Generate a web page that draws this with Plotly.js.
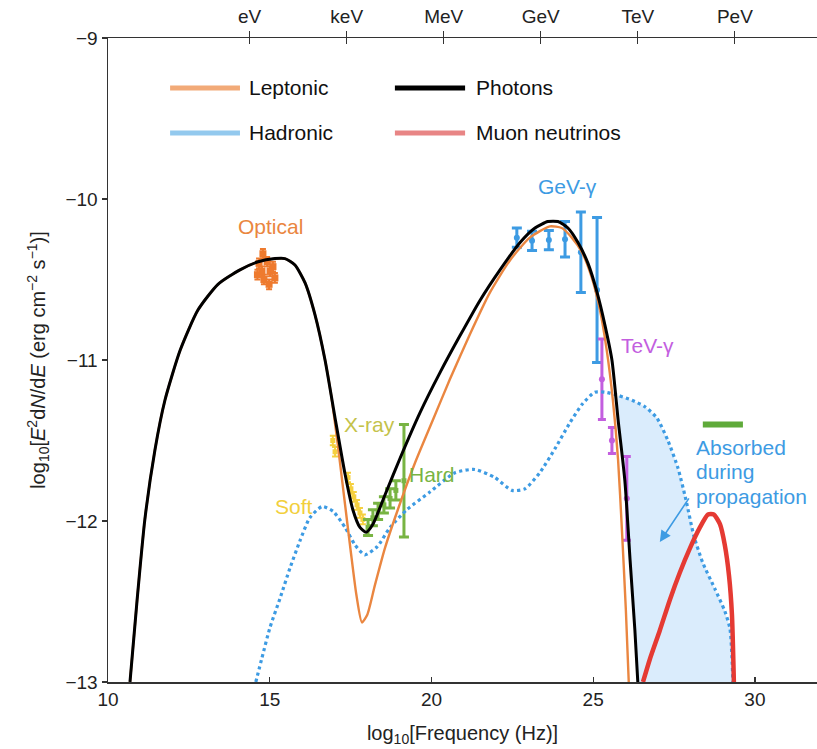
<!DOCTYPE html>
<html>
<head>
<meta charset="utf-8">
<script src="https://cdn.plot.ly/plotly-3.0.1.min.js"></script>
<style>html,body{margin:0;padding:0;background:#fff;}#chart{width:817px;height:749px;}</style>
</head>
<body>
<div id="chart"></div>
<script>
// ---- Model curves (log10 frequency, log10 E^2 dN/dE) ----
const photonX = [10.68,10.90,11.14,11.45,11.76,12.23,12.78,13.40,14.08,14.64,15.16,15.47,15.78,16.09,16.40,16.71,17.02,17.33,17.57,17.79,17.98,18.19,18.56,19.03,19.64,20.26,20.88,21.50,22.12,22.74,23.20,23.60,23.91,24.22,24.53,24.84,25.12,25.36,25.58,25.77,25.98,26.14,26.29,26.38];
const photonY = [-13.00,-12.49,-11.99,-11.56,-11.25,-10.94,-10.69,-10.53,-10.44,-10.39,-10.37,-10.37,-10.41,-10.52,-10.72,-11.00,-11.36,-11.71,-11.93,-12.04,-12.07,-12.02,-11.84,-11.61,-11.33,-11.08,-10.85,-10.63,-10.44,-10.27,-10.18,-10.14,-10.14,-10.18,-10.27,-10.40,-10.58,-10.78,-11.00,-11.37,-11.75,-12.24,-12.68,-13.00];

const leptonicX = [10.68,10.90,11.14,11.45,11.76,12.23,12.78,13.40,14.08,14.64,15.16,15.47,15.78,16.09,16.40,16.71,16.90,17.10,17.30,17.50,17.68,17.85,18.02,18.25,18.56,18.96,19.49,20.05,20.57,21.19,21.81,22.43,23.04,23.66,24.03,24.34,24.65,24.96,25.21,25.42,25.61,25.77,25.89,26.01,26.10];
const leptonicY = [-13.00,-12.49,-11.99,-11.56,-11.25,-10.94,-10.69,-10.53,-10.44,-10.39,-10.37,-10.37,-10.41,-10.52,-10.72,-11.00,-11.22,-11.52,-11.85,-12.18,-12.46,-12.63,-12.58,-12.40,-12.17,-11.93,-11.64,-11.37,-11.12,-10.84,-10.58,-10.38,-10.24,-10.17,-10.18,-10.24,-10.33,-10.49,-10.69,-10.94,-11.25,-11.62,-12.06,-12.55,-13.00];

const hadronicX = [14.57,14.76,15.01,15.32,15.63,15.94,16.24,16.62,16.96,17.33,17.64,17.94,18.32,18.72,19.24,19.95,20.73,21.34,21.96,22.49,22.89,23.35,23.82,24.28,24.68,25.05,25.36,25.77,26.20,26.60,26.97,27.31,27.62,27.87,28.11,28.39,28.76,29.07,29.23,29.32];
const hadronicY = [-13.00,-12.85,-12.66,-12.48,-12.29,-12.12,-11.98,-11.91,-11.94,-12.04,-12.15,-12.21,-12.16,-12.04,-11.93,-11.82,-11.70,-11.68,-11.73,-11.81,-11.80,-11.70,-11.55,-11.39,-11.27,-11.20,-11.20,-11.22,-11.25,-11.29,-11.36,-11.50,-11.67,-11.87,-12.09,-12.26,-12.42,-12.56,-12.67,-13.00];

const neutrinoX = [26.54,26.75,27.06,27.37,27.68,27.99,28.30,28.55,28.73,28.92,29.07,29.20,29.29,29.35];
const neutrinoY = [-13.00,-12.86,-12.68,-12.49,-12.32,-12.17,-12.04,-11.96,-11.96,-12.02,-12.15,-12.34,-12.58,-13.00];

// ---- Data points ----
const opticalX = [14.79,14.67,14.92,15.10,14.76,15.01,14.82,15.16,14.98,14.62];
const opticalY = [-10.34,-10.40,-10.39,-10.42,-10.45,-10.45,-10.50,-10.49,-10.53,-10.47];

const softX = [16.95,17.02,17.42,17.51,17.60,17.70,17.79,17.88];
const softY = [-11.50,-11.57,-11.73,-11.80,-11.85,-11.90,-11.95,-11.99];

const hardX = [18.04,18.19,18.35,18.53,18.72,18.90,19.15];
const hardY = [-12.04,-11.98,-11.94,-11.90,-11.86,-11.81,-11.75];
const hardErr = [0.05,0.05,0.05,0.05,0.06,0.06,0.35];

const gevX = [22.64,23.11,23.63,24.13,24.62,25.12];
const gevY = [-10.24,-10.26,-10.255,-10.25,-10.33,-10.565];
const gevErr = [0.06,0.06,0.06,0.11,0.25,0.45];

const tevX = [25.27,25.58,26.04];
const tevY = [-11.12,-11.50,-11.86];
const tevErr = [0.25,0.08,0.26];

const icX = [28.39,29.63];
const icY = [-11.40,-11.40];

// ---- Top energy axis ----
const energyTickX = [14.38,17.38,20.38,23.38,26.38,29.38];
const energyTickText = ['eV','keV','MeV','GeV','TeV','PeV'];

// Shaded "absorbed" region: between hadronic and photon curves above TeV
const cut = 25.67;
const fillX = [], fillY = [];
hadronicX.forEach((x,i)=>{ if (x>=cut){ fillX.push(x); fillY.push(hadronicY[i]); } });
for (let i=photonX.length-1;i>=0;i--){ if (photonX[i]>=cut){ fillX.push(photonX[i]); fillY.push(photonY[i]); } }

const FONT = 'Liberation Sans, Arial, Helvetica, sans-serif';
const cOrange = '#ea8640', cBlue = '#3d9be3', cRed = '#e53a33', cYellow = '#f5d040', cGreen = '#78b443', cPurple = '#c35edf';
const SM = 0.6;
const TICK = 19, ANN = 21;

const traces = [
  {x: fillX, y: fillY, type:'scatter', mode:'lines', fill:'toself', fillcolor:'rgba(150,200,245,0.35)', line:{width:0}, hoverinfo:'skip', showlegend:false},
  {x: opticalX, y: opticalY, type:'scatter', mode:'markers', marker:{symbol:'square', size:7, color:'#ee7a2e'},
   error_y:{type:'constant', value:0.03, color:'#ee7a2e', thickness:2, width:3}, showlegend:false},
  {x: softX, y: softY, type:'scatter', mode:'markers', marker:{symbol:'square', size:5, color:cYellow},
   error_y:{type:'constant', value:0.03, color:cYellow, thickness:2, width:3}, showlegend:false},
  {x: hardX, y: hardY, type:'scatter', mode:'markers', marker:{symbol:'square', size:5, color:cGreen},
   error_y:{type:'data', array:hardErr, color:cGreen, thickness:3, width:5}, showlegend:false},
  {x: gevX, y: gevY, type:'scatter', mode:'markers', marker:{symbol:'circle', size:6, color:cBlue},
   error_y:{type:'data', array:gevErr, color:cBlue, thickness:3, width:5}, showlegend:false},
  {x: tevX, y: tevY, type:'scatter', mode:'markers', marker:{symbol:'circle', size:6, color:cPurple},
   error_y:{type:'data', array:tevErr, color:cPurple, thickness:3, width:4}, showlegend:false},
  {x: icX, y: icY, type:'scatter', mode:'lines', line:{color:'#5faa3a', width:6}, showlegend:false},
  {x: hadronicX, y: hadronicY, type:'scatter', mode:'lines', line:{color:cBlue, width:3.2, dash:'dot', shape:'spline', smoothing:SM}, showlegend:false},
  {x: leptonicX, y: leptonicY, type:'scatter', mode:'lines', line:{color:cOrange, width:2.4, shape:'spline', smoothing:SM}, showlegend:false},
  {x: photonX, y: photonY, type:'scatter', mode:'lines', line:{color:'#000', width:3, shape:'spline', smoothing:SM}, showlegend:false},
  {x: neutrinoX, y: neutrinoY, type:'scatter', mode:'lines', line:{color:cRed, width:4.5, shape:'spline', smoothing:SM}, showlegend:false},
  {x: energyTickX, y: energyTickX.map(()=>-20), xaxis:'x2', type:'scatter', mode:'markers', marker:{opacity:0}, hoverinfo:'skip', showlegend:false},
  {x: energyTickX, y: energyTickX.map(()=>-20), xaxis:'x3', type:'scatter', mode:'markers', marker:{opacity:0}, hoverinfo:'skip', showlegend:false}
];

const txt = (x,y,t,color,xanchor) => ({x, y, xref:'x', yref:'y', text:t, showarrow:false, xanchor: xanchor||'center', yanchor:'middle', font:{family:FONT, size:ANN, color}});

const annotations = [
  txt(15.01,-10.17,'Optical','#ea8640'),
  txt(18.10,-11.40,'X-ray','#c4c24a'),
  txt(15.75,-11.91,'Soft','#f2cf3c'),
  txt(20.02,-11.71,'Hard','#78b443'),
  txt(24.22,-9.925,'GeV-γ','#3d9be3'),
  txt(26.69,-10.91,'TeV-γ','#c35edf'),
  txt(28.12,-11.545,'Absorbed','#3d9be3','left'),
  txt(28.12,-11.695,'during','#3d9be3','left'),
  txt(28.12,-11.85,'propagation','#3d9be3','left'),
  txt(14.30,-9.31,'Leptonic','#111','left'),
  txt(21.31,-9.31,'Photons','#111','left'),
  txt(14.30,-9.59,'Hadronic','#111','left'),
  txt(21.31,-9.59,'Muon neutrinos','#111','left'),
  {x:27.06, y:-12.13, ax:27.99, ay:-11.85, xref:'x', yref:'y', axref:'x', ayref:'y', showarrow:true, text:'', arrowhead:2, arrowsize:1.4, arrowwidth:1.6, arrowcolor:'#3d9be3'}
];

const legLine = (x0,x1,y,color) => ({type:'line', xref:'x', yref:'y', x0, x1, y0:y, y1:y, line:{color, width:5}});
const shapes = [
  legLine(11.92,14.08,-9.31,'#f2aa78'),
  legLine(18.87,21.04,-9.31,'#000'),
  legLine(11.92,14.08,-9.59,'#93c9ee'),
  legLine(18.87,21.04,-9.59,'#e88585')
];

const layout = {
  width: 817, height: 749,
  margin: {l:108, r:0, t:38, b:67},
  paper_bgcolor:'#fff', plot_bgcolor:'#fff',
  font:{family:FONT, size:TICK, color:'#222'},
  showlegend:false,
  xaxis: {range:[10,31.92], tickvals:[10,15,20,25,30], ticks:'inside', ticklen:5, tickcolor:'#333', tickwidth:1.2,
          showline:true, linecolor:'#333', linewidth:1.5, showgrid:false, zeroline:false,
          tickfont:{family:FONT, size:TICK, color:'#222'},
          title:{text:'log<sub>10</sub>[Frequency (Hz)]', font:{family:FONT, size:20, color:'#222'}, standoff:16}},
  xaxis2: {overlaying:'x', side:'top', anchor:'y', range:[10,31.92], tickvals:energyTickX, ticktext:energyTickText,
           ticks:'outside', ticklen:6, tickcolor:'#333', tickwidth:1.2, showline:true, linecolor:'#333', linewidth:1.5,
           showgrid:false, zeroline:false, tickfont:{family:FONT, size:TICK, color:'#222'}},
  xaxis3: {overlaying:'x', side:'top', anchor:'y', range:[10,31.92], tickvals:energyTickX, showticklabels:false,
           ticks:'inside', ticklen:6, tickcolor:'#333', tickwidth:1.2, showline:false, showgrid:false, zeroline:false},
  yaxis: {range:[-13,-9], tickvals:[-13,-12,-11,-10,-9], ticks:'outside', ticklen:5, tickcolor:'#333', tickwidth:1.2,
          showline:true, linecolor:'#333', linewidth:1.5, showgrid:false, zeroline:false,
          tickfont:{family:FONT, size:TICK, color:'#222'},
          title:{text:'log<sub>10</sub>[<i>E</i><sup>2</sup>d<i>N</i>/d<i>E</i> (erg cm<sup>−2</sup> s<sup>−1</sup>)]', font:{family:FONT, size:20, color:'#222'}, standoff:14}},
  annotations, shapes
};

Plotly.newPlot('chart', traces, layout, {displayModeBar:false, staticPlot:true});
</script>
</body>
</html>
